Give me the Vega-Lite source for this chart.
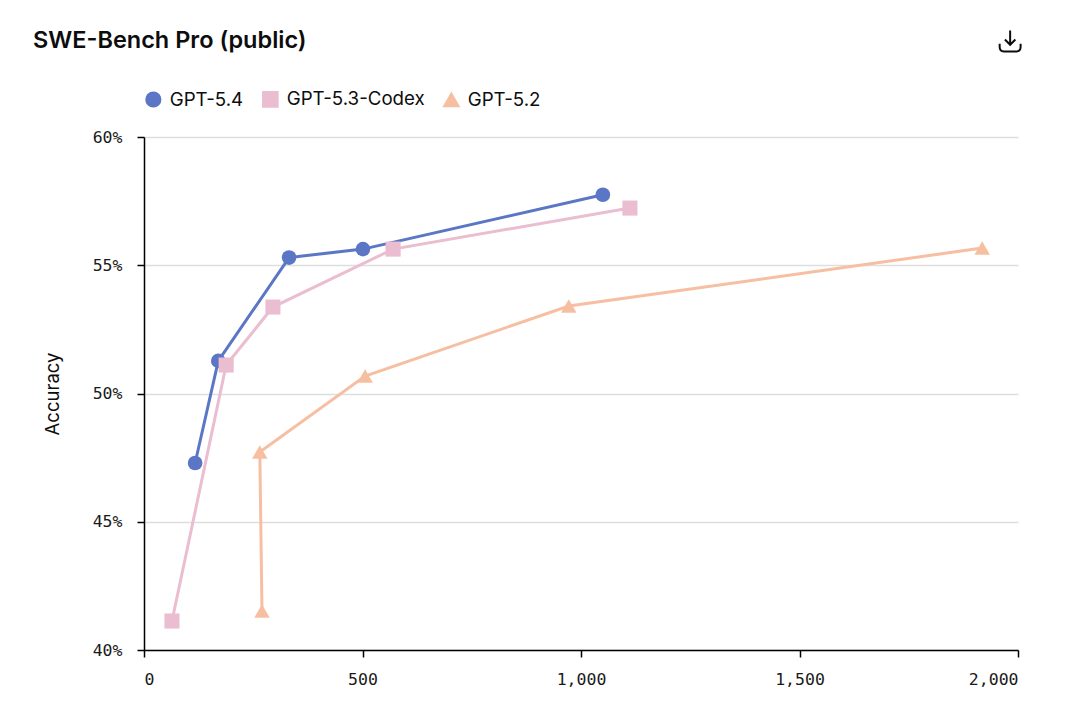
{
  "$schema": "https://vega.github.io/schema/vega-lite/v6.json",
  "description": "SWE-Bench Pro accuracy against the x value for three GPT models.",
  "width": 874,
  "height": 513,
  "autosize": "none",
  "padding": {"left": 144, "top": 137, "right": 62, "bottom": 60},
  "background": "white",
  "title": {
    "text": "SWE-Bench Pro (public)",
    "anchor": "start",
    "frame": "group",
    "dx": -111,
    "offset": -26,
    "font": "Inter",
    "fontSize": 23.5,
    "fontWeight": 600,
    "color": "#0d0d0d"
  },
  "layer": [
    {
      "data": {
        "values": [
          {"model": "GPT-5.4", "step": 1, "x": 117, "accuracy": 0.4729},
          {"model": "GPT-5.4", "step": 2, "x": 170, "accuracy": 0.5127},
          {"model": "GPT-5.4", "step": 3, "x": 332, "accuracy": 0.553},
          {"model": "GPT-5.4", "step": 4, "x": 501, "accuracy": 0.5563},
          {"model": "GPT-5.4", "step": 5, "x": 1050, "accuracy": 0.5775},
          {"model": "GPT-5.3-Codex", "step": 1, "x": 64, "accuracy": 0.4113},
          {"model": "GPT-5.3-Codex", "step": 2, "x": 188, "accuracy": 0.5111},
          {"model": "GPT-5.3-Codex", "step": 3, "x": 295, "accuracy": 0.5337},
          {"model": "GPT-5.3-Codex", "step": 4, "x": 570, "accuracy": 0.5563},
          {"model": "GPT-5.3-Codex", "step": 5, "x": 1112, "accuracy": 0.5723},
          {"model": "GPT-5.2", "step": 1, "x": 270, "accuracy": 0.4152},
          {"model": "GPT-5.2", "step": 2, "x": 265, "accuracy": 0.4772},
          {"model": "GPT-5.2", "step": 3, "x": 506, "accuracy": 0.5068},
          {"model": "GPT-5.2", "step": 4, "x": 972, "accuracy": 0.5341},
          {"model": "GPT-5.2", "step": 5, "x": 1918, "accuracy": 0.5567}
        ]
      },
      "encoding": {
        "x": {
          "field": "x",
          "type": "quantitative",
          "title": null,
          "scale": {"domain": [0, 2000]},
          "axis": {
            "values": [0, 500, 1000, 1500, 2000],
            "format": ",d",
            "grid": false,
            "labelFlush": true,
            "labelPadding": 14
          }
        },
        "y": {
          "field": "accuracy",
          "type": "quantitative",
          "title": "Accuracy",
          "scale": {"domain": [0.4, 0.6]},
          "axis": {
            "values": [0.4, 0.45, 0.5, 0.55, 0.6],
            "format": ".0%",
            "grid": true,
            "labelPadding": 15,
            "titlePadding": 30
          }
        },
        "color": {
          "field": "model",
          "type": "nominal",
          "title": null,
          "sort": null,
          "scale": {
            "domain": ["GPT-5.4", "GPT-5.3-Codex", "GPT-5.2"],
            "range": ["#5b76c4", "#ebbdd0", "#f6bfa2"]
          }
        }
      },
      "layer": [
        {
          "mark": {"type": "line", "strokeWidth": 3},
          "encoding": {"order": {"field": "step", "type": "quantitative"}}
        },
        {
          "mark": {"type": "point", "filled": true, "opacity": 1},
          "encoding": {
            "shape": {
              "field": "model",
              "type": "nominal",
              "sort": null,
              "title": null,
              "scale": {
                "domain": ["GPT-5.4", "GPT-5.3-Codex", "GPT-5.2"],
                "range": ["circle", "square", "triangle-up"]
              }
            },
            "size": {
              "field": "model",
              "type": "nominal",
              "sort": null,
              "title": null,
              "scale": {
                "domain": ["GPT-5.4", "GPT-5.3-Codex", "GPT-5.2"],
                "range": [215, 240, 170]
              }
            }
          }
        }
      ]
    },
    {
      "data": {"values": [{"x": 1982, "accuracy": 0.6374}]},
      "mark": {
        "type": "point",
        "shape": "M0 -1V0.3M-0.5 -0.15L0 0.35L0.5 -0.15M-1 0.25V0.55Q-1 1 -0.6 1H0.6Q1 1 1 0.55V0.25",
        "size": 440,
        "filled": false,
        "stroke": "#0d0d0d",
        "strokeWidth": 2,
        "opacity": 1
      },
      "encoding": {
        "x": {"field": "x", "type": "quantitative"},
        "y": {"field": "accuracy", "type": "quantitative"}
      }
    }
  ],
  "config": {
    "view": {"stroke": null},
    "axis": {
      "domainColor": "#000000",
      "domainWidth": 1.5,
      "tickColor": "#000000",
      "tickWidth": 1.5,
      "tickSize": 7,
      "gridColor": "#dedede",
      "gridWidth": 1.5,
      "labelFont": "DejaVu Sans Mono",
      "labelFontSize": 16.5,
      "labelColor": "#1a1a1a",
      "titleFont": "Inter",
      "titleFontSize": 18.5,
      "titleFontWeight": 400,
      "titleColor": "#0d0d0d"
    },
    "legend": {
      "orient": "top",
      "direction": "horizontal",
      "offset": 27,
      "padding": 0,
      "labelFont": "Inter",
      "labelFontSize": 18.7,
      "labelColor": "#0d0d0d",
      "symbolOpacity": 1,
      "symbolSize": 200,
      "columnPadding": 15,
      "labelOffset": 7
    }
  }
}
